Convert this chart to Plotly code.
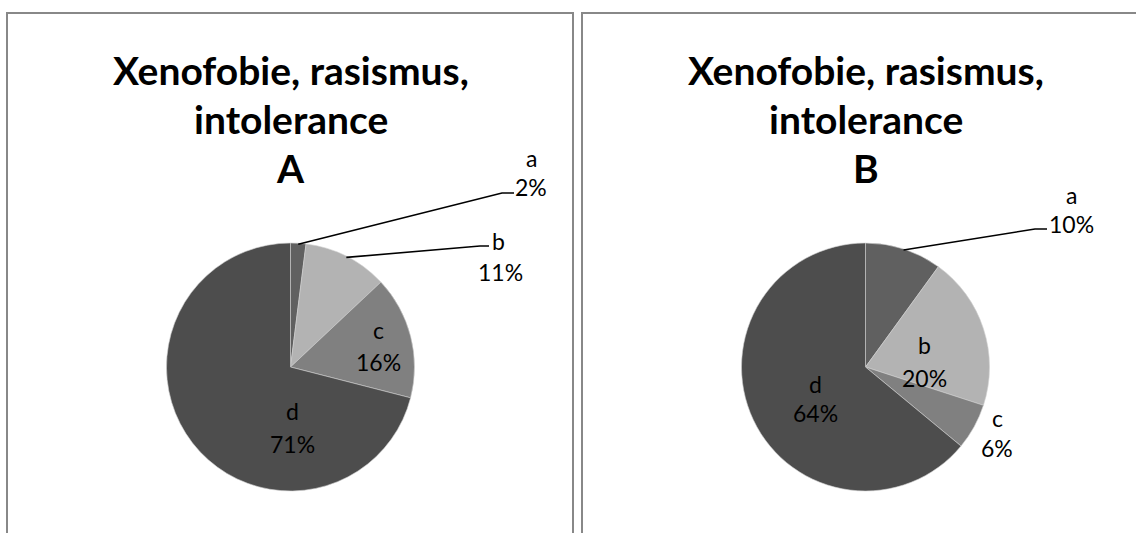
import math
import plotly.graph_objects as go

# Survey answers, share of respondents (%)
categories = ["a", "b", "c", "d"]
values_a = [2, 11, 16, 71]
values_b = [10, 20, 6, 64]
title_lines = ["Xenofobie, rasismus,", "intolerance"]
panel_names = ["A", "B"]
slice_colors = ["#606060", "#b3b3b3", "#808080", "#4d4d4d"]

W, H = 1136, 533
FONT = "Lato, 'Open Sans', sans-serif"


def px(x):
    return x / W


def py(y):
    return 1 - y / H


fig = go.Figure()

# pie geometry (pixels)
radius = 124
centers = [(290.5, 367), (865.5, 367)]

for vals, (cx, cy) in zip([values_a, values_b], centers):
    fig.add_trace(go.Pie(
        labels=categories,
        values=vals,
        sort=False,
        direction="clockwise",
        rotation=0,
        textinfo="none",
        hoverinfo="label+percent",
        marker=dict(colors=slice_colors, line=dict(color="#d0d0d0", width=0.6)),
        domain=dict(x=[px(cx - radius), px(cx + radius)],
                    y=[py(cy + radius), py(cy - radius)]),
        showlegend=False,
    ))

annotations = []
shapes = []


def add_text(text, x, y, size, bold=False):
    annotations.append(dict(
        text=f"<b>{text}</b>" if bold else text,
        x=px(x), y=py(y), xref="paper", yref="paper",
        xanchor="center", yanchor="middle", showarrow=False,
        font=dict(family=FONT, size=size, color="#000000"),
    ))


def slice_point(vals, idx, cx, cy, r):
    total = sum(vals)
    mid = sum(vals[:idx]) + vals[idx] / 2
    ang = 2 * math.pi * mid / total
    return cx + r * math.sin(ang), cy - r * math.cos(ang)


def add_leader(vals, idx, center, bend, end):
    sx, sy = slice_point(vals, idx, center[0], center[1], radius - 1)
    pts = [(sx, sy), bend, end]
    path = "M " + " L ".join(f"{px(x)},{py(y)}" for x, y in pts)
    shapes.append(dict(type="path", path=path, xref="paper", yref="paper",
                       line=dict(color="#000000", width=1.6)))


# panel frames
frame = dict(color="#888888", width=2)
shapes.append(dict(type="rect", xref="paper", yref="paper",
                   x0=px(7), x1=px(573), y0=py(13), y1=py(560), line=frame))
shapes.append(dict(type="rect", xref="paper", yref="paper",
                   x0=px(582), x1=px(1160), y0=py(13), y1=py(560), line=frame))

# titles
TS = 39
for (cx, _), name in zip(centers, panel_names):
    add_text(title_lines[0], cx, 70, TS, bold=True)
    add_text(title_lines[1], cx, 119, TS, bold=True)
    add_text(name, cx, 168, TS, bold=True)

LBL = 23
# panel A labels
add_text(categories[0], 531, 158, LBL)
add_text(f"{values_a[0]}%", 531, 187, LBL)
add_leader(values_a, 0, centers[0], (502, 193), (514, 193))
add_text(categories[1], 498, 241, LBL)
add_text(f"{values_a[1]}%", 500, 272, LBL)
add_leader(values_a, 1, centers[0], (480, 246), (489, 246))
add_text(categories[2], 378, 330, LBL)
add_text(f"{values_a[2]}%", 378, 362, LBL)
add_text(categories[3], 292, 411, LBL)
add_text(f"{values_a[3]}%", 292, 444, LBL)

# panel B labels
add_text(categories[0], 1071, 195, LBL)
add_text(f"{values_b[0]}%", 1071, 224, LBL)
add_leader(values_b, 0, centers[1], (1035, 229), (1047, 229))
add_text(categories[1], 924, 345, LBL)
add_text(f"{values_b[1]}%", 924, 378, LBL)
add_text(categories[2], 997, 418, LBL)
add_text(f"{values_b[2]}%", 997, 448, LBL)
add_text(categories[3], 815, 384, LBL)
add_text(f"{values_b[3]}%", 815, 413, LBL)

fig.update_layout(
    width=W, height=H,
    margin=dict(l=0, r=0, t=0, b=0),
    paper_bgcolor="#ffffff",
    plot_bgcolor="#ffffff",
    annotations=annotations,
    shapes=shapes,
)

fig.write_html("out.html")
